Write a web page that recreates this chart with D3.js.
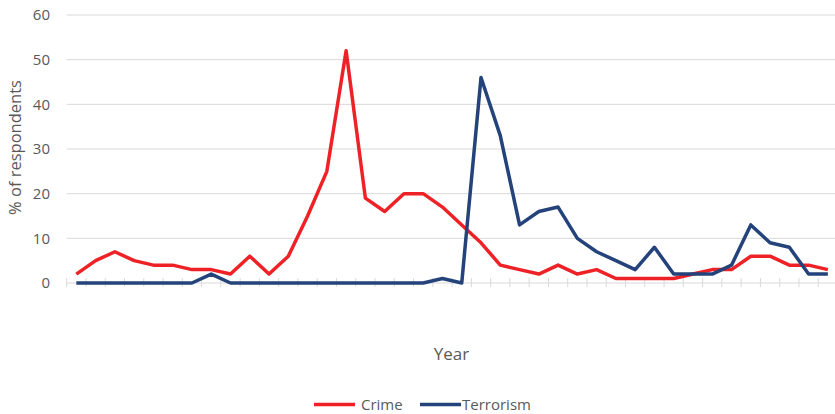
<!DOCTYPE html>
<html>
<head>
<meta charset="utf-8">
<script src="https://cdn.jsdelivr.net/npm/d3@7"></script>
<style>
  html, body { margin: 0; padding: 0; background: #fff; }
  svg { display: block; font-family: "Open Sans", "Noto Sans", sans-serif; }
</style>
</head>
<body>
<svg id="chart" width="835" height="414"></svg>
<script>
// Survey share by year, two concerns
const years = d3.range(40).map(i => "Y" + (i + 1));
const crime = [2,5,7,5,4,4,3,3,2,6,2,6,15,25,52,19,16,20,20,17,13,9,4,3,2,4,2,3,1,1,1,1,2,3,3,6,6,4,4,3];
const terrorism = [0,0,0,0,0,0,0,2,0,0,0,0,0,0,0,0,0,0,0,1,0,46,33,13,16,17,10,7,5,3,8,2,2,2,4,13,9,8,2,2];
const yTicks = [0,10,20,30,40,50,60];
const seriesNames = ["Crime", "Terrorism"];
const seriesColors = ["#ee2226", "#24437a"];

const svg = d3.select("#chart");
const plotLeft = 66.7, plotRight = 837.5, plotTop = 15, plotBottom = 283;
const textColor = "#595959";

const x = d3.scaleBand().domain(years).range([plotLeft, plotRight]);
const y = d3.scaleLinear().domain([0, 60]).range([plotBottom, plotTop]);

// horizontal gridlines
svg.append("g").selectAll("line").data(yTicks.filter(d => d > 0)).join("line")
  .attr("x1", plotLeft).attr("x2", plotRight)
  .attr("y1", d => y(d)).attr("y2", d => y(d))
  .attr("stroke", "#d9d9d9").attr("stroke-width", 1);

// y tick labels
svg.append("g").selectAll("text").data(yTicks).join("text")
  .attr("x", 50).attr("y", d => y(d))
  .attr("dy", "0.35em")
  .attr("text-anchor", "end")
  .attr("fill", textColor)
  .attr("font-size", 15)
  .text(d => d);

// x axis line with category boundary ticks
svg.append("line")
  .attr("x1", plotLeft).attr("x2", plotRight)
  .attr("y1", y(0)).attr("y2", y(0))
  .attr("stroke", "#d9d9d9").attr("stroke-width", 1);
const bounds = years.map(d => x(d)).concat([plotRight]);
svg.append("g").selectAll("line").data(bounds).join("line")
  .attr("x1", d => d).attr("x2", d => d)
  .attr("y1", y(0) - 5).attr("y2", y(0) + 4)
  .attr("stroke", "#d9d9d9").attr("stroke-width", 1);

// series lines
const cx = d => x(d) + x.bandwidth() / 2;
const line = d3.line().x((v, i) => cx(years[i])).y(v => y(v));
[crime, terrorism].forEach((vals, k) => {
  svg.append("path")
    .datum(vals)
    .attr("fill", "none")
    .attr("stroke", seriesColors[k])
    .attr("stroke-width", 3.5)
    .attr("stroke-linejoin", "round")
    .attr("d", line);
});

// axis titles
svg.append("text")
  .attr("transform", `translate(21,147.5) rotate(-90)`)
  .attr("text-anchor", "middle")
  .attr("fill", textColor)
  .attr("font-size", 16.5)
  .text("% of respondents");

svg.append("text")
  .attr("x", 451.5).attr("y", 360)
  .attr("text-anchor", "middle")
  .attr("fill", textColor)
  .attr("font-size", 17)
  .text("Year");

// legend
const legendX = [314, 420];
const legend = svg.append("g");
seriesNames.forEach((name, k) => {
  legend.append("line")
    .attr("x1", legendX[k]).attr("x2", legendX[k] + 41)
    .attr("y1", 404.5).attr("y2", 404.5)
    .attr("stroke", seriesColors[k]).attr("stroke-width", 3.5);
  legend.append("text")
    .attr("x", legendX[k] + 47 - (k === 1 ? 5 : 0)).attr("y", 404.5)
    .attr("dy", "0.35em")
    .attr("fill", textColor)
    .attr("font-size", 15)
    .text(name);
});
</script>
</body>
</html>
